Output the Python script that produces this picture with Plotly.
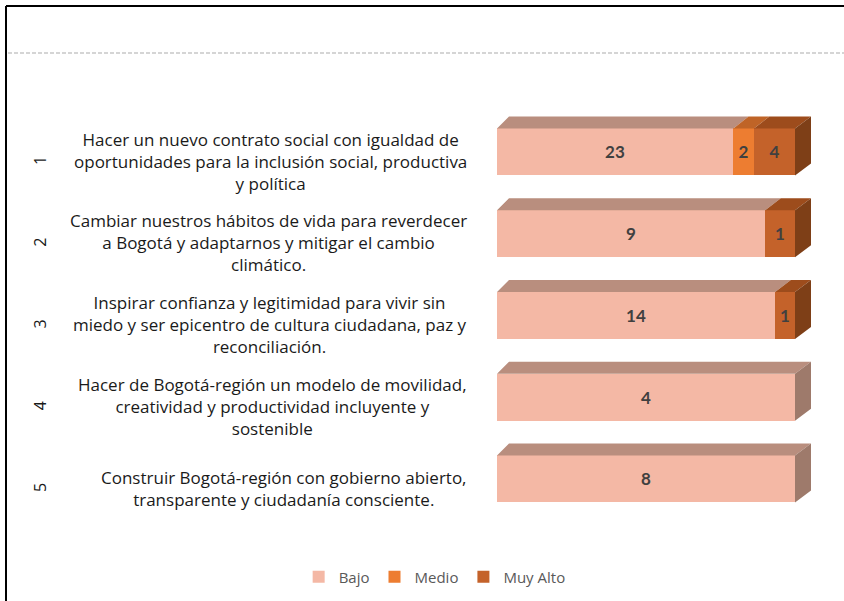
import plotly.graph_objects as go

# ---------------- data ----------------
categories = ["1", "2", "3", "4", "5"]
category_texts = [
    "Hacer un nuevo contrato social con igualdad de<br>oportunidades para la inclusión social, productiva<br>y política",
    "Cambiar nuestros hábitos de vida para reverdecer<br>a Bogotá y adaptarnos y mitigar el cambio<br>climático.",
    "Inspirar confianza y legitimidad para vivir sin<br>miedo y ser epicentro de cultura ciudadana, paz y<br>reconciliación.",
    "Hacer de Bogotá-región un modelo de movilidad,<br>creatividad y productividad incluyente y<br>sostenible",
    "Construir Bogotá-región con gobierno abierto,<br>transparente y ciudadanía consciente.",
]
series_names = ["Bajo", "Medio", "Muy Alto"]
bajo = [23, 9, 14, 4, 8]
medio = [2, 0, 0, 0, 0]
muy_alto = [4, 1, 1, 0, 0]

# ---------------- style ----------------
front_colors = ["#F4B8A5", "#ED7D31", "#C4622A"]
top_colors = ["#B98E7E", "#BF6427", "#9D4C1C"]
side_colors = ["#9E7A6B", "#8A4516", "#7E3F17"]

W, H = 844, 601
X0_PX, X100_PX = 497, 795
XMAX = 110
PXU = (X100_PX - X0_PX) / 100.0
PLOT_RIGHT = X0_PX + XMAX * PXU
ROW_PX = 81.75
Y_TOP_PX = 315.5 - 2.5 * ROW_PX
Y_BOT_PX = 315.5 + 2.5 * ROW_PX
BAR_W = 47 / ROW_PX
DY = 12 / ROW_PX


def depth_dx(x):
    # slight perspective: deeper offset toward the right
    return (12 + 4 * x / 100.0) / PXU


series = [bajo, medio, muy_alto]
n = len(categories)
totals = [sum(s[i] for s in series) for i in range(n)]
pcts = [[s[i] / totals[i] * 100 for i in range(n)] for s in series]
ys = list(range(n))

fig = go.Figure()

for k, name in enumerate(series_names):
    fig.add_trace(go.Bar(
        y=ys, x=pcts[k], orientation="h", name=name,
        width=BAR_W,
        marker=dict(color=front_colors[k], line=dict(width=0)),
        text=[str(v) if v else "" for v in series[k]],
        textposition="inside", insidetextanchor="middle", textangle=0,
        constraintext="none",
        textfont=dict(family="Lato", size=17, color="#404040", weight="bold"),
        hoverinfo="skip",
    ))

# top faces
for k in range(len(series)):
    xs, yv = [], []
    for i in range(n):
        if series[k][i] == 0:
            continue
        a = sum(pcts[j][i] for j in range(k))
        b = a + pcts[k][i]
        yt = i - BAR_W / 2
        xs += [a, b, b + depth_dx(b), a + depth_dx(a), a, None]
        yv += [yt, yt, yt - DY, yt - DY, yt, None]
    if xs:
        fig.add_trace(go.Scatter(x=xs, y=yv, mode="lines", fill="toself",
                                 fillcolor=top_colors[k], line=dict(width=0),
                                 showlegend=False, hoverinfo="skip"))

# side faces
for k in range(len(series)):
    xs, yv = [], []
    for i in range(n):
        last = max(j for j in range(len(series)) if series[j][i] > 0)
        if last != k:
            continue
        yt = i - BAR_W / 2
        yb = i + BAR_W / 2
        r = 100.0
        xs += [r, r, r + depth_dx(r), r + depth_dx(r), r, None]
        yv += [yt, yb, yb - DY, yt - DY, yt, None]
    if xs:
        fig.add_trace(go.Scatter(x=xs, y=yv, mode="lines", fill="toself",
                                 fillcolor=side_colors[k], line=dict(width=0),
                                 showlegend=False, hoverinfo="skip"))

annotations = []
for i in range(n):
    annotations.append(dict(
        xref="paper", yref="y", x=469 / W, y=ys[i], xanchor="right", yanchor="middle",
        align="center", text=category_texts[i], showarrow=False, yshift=-9,
        font=dict(family="Open Sans", size=17, color="#1a1a1a"),
    ))
    annotations.append(dict(
        xref="paper", yref="y", x=40 / W, y=ys[i], xanchor="center", yanchor="middle",
        text=categories[i], showarrow=False, textangle=-90, yshift=-9,
        font=dict(family="Open Sans", size=16, color="#1a1a1a"),
    ))

shapes = [
    dict(type="line", xref="paper", yref="paper", x0=6 / W, x1=1, y0=1 - 6 / H, y1=1 - 6 / H,
         line=dict(color="black", width=2)),
    dict(type="line", xref="paper", yref="paper", x0=6 / W, x1=6 / W, y0=0, y1=1 - 6 / H,
         line=dict(color="black", width=2)),
    dict(type="line", xref="paper", yref="paper", x0=8 / W, x1=1, y0=1 - 53 / H, y1=1 - 53 / H,
         line=dict(color="#C8C8C8", width=1.5, dash="4px,2px")),
]

fig.update_layout(
    width=W, height=H,
    margin=dict(l=0, r=0, t=0, b=0),
    paper_bgcolor="white", plot_bgcolor="white",
    barmode="stack", bargap=0,
    xaxis=dict(range=[0, XMAX], domain=[X0_PX / W, PLOT_RIGHT / W], visible=False, fixedrange=True),
    yaxis=dict(range=[n - 0.5, -0.5], domain=[1 - Y_BOT_PX / H, 1 - Y_TOP_PX / H],
               visible=False, fixedrange=True),
    legend=dict(orientation="h", x=0.515, xanchor="center", y=1 - 577 / H, yanchor="middle",
                font=dict(family="Open Sans", size=15, color="#595959"), traceorder="normal",
                itemwidth=30),
    annotations=annotations,
    shapes=shapes,
    showlegend=True,
)

fig.write_html("out.html", config={"displayModeBar": False},
               post_script="document.body.style.margin='0';")
